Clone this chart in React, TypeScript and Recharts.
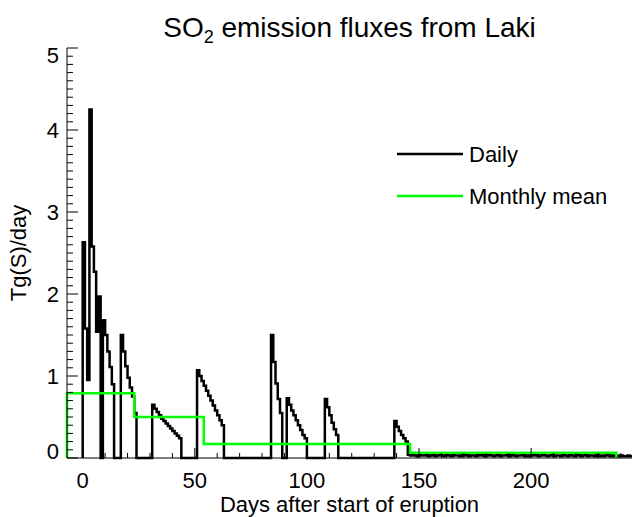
import { LineChart, Line, XAxis, YAxis } from "recharts";

// daily SO2 flux, Tg(S)/day, one array per eruption episode
const episodeStartDay = [0, 17, 31, 51, 84, 91, 108, 139, 145];
const episodeFlux = [
  [2.63, 1.58, 0.95, 4.25, 2.58, 2.27, 1.54, 1.97, 0, 1.68, 1.5, 1.3, 1.11, 0.9],
  [1.5, 1.3, 1.12, 0.98, 0.86, 0.75, 0.55],
  [0.65, 0.6, 0.56, 0.52, 0.48, 0.45, 0.42, 0.39, 0.36, 0.33, 0.3, 0.27, 0.24],
  [1.07, 1.0, 0.94, 0.88, 0.82, 0.76, 0.7, 0.64, 0.58, 0.52, 0.46, 0.4],
  [1.5, 1.17, 0.91, 0.72, 0.55],
  [0.73, 0.65, 0.58, 0.52, 0.46, 0.4, 0.34, 0.28, 0.24],
  [0.72, 0.62, 0.52, 0.43, 0.35, 0.28],
  [0.45, 0.38, 0.33, 0.28, 0.24, 0.2],
  // low-level tail, Nov - Feb
  [
    0.04, 0.03, 0.05, 0.03, 0.02, 0.04, 0.03, 0.03, 0.05, 0.02,
    0.03, 0.04, 0.02, 0.03, 0.05, 0.03, 0.02, 0.04, 0.03, 0.02,
    0.04, 0.03, 0.03, 0.02, 0.05, 0.03, 0.04, 0.02, 0.03, 0.03,
    0.02, 0.04, 0.03, 0.05, 0.02, 0.03, 0.04, 0.03, 0.02, 0.03,
    0.04, 0.02, 0.03, 0.03, 0.05, 0.02, 0.04, 0.03, 0.02, 0.03,
    0.03, 0.04, 0.02, 0.03, 0.02, 0.04, 0.03, 0.05, 0.02, 0.03,
    0.04, 0.03, 0.02, 0.03, 0.04, 0.02, 0.03, 0.03, 0.02, 0.04,
    0.03, 0.02, 0.04, 0.03, 0.02, 0.03, 0.05, 0.02, 0.03, 0.04,
    0.02, 0.03, 0.03, 0.02, 0.04, 0.02, 0.03, 0.02, 0.03, 0.04,
    0.02, 0.03, 0.02, 0.03, 0.02, 0.03, 0.02, 0.02, 0.03, 0.02,
  ],
];
const lastDay = 245;

// monthly means (June 1783 starts 7 days before the eruption)
const monthStartDay = [-7, 23, 54, 85, 115, 146, 176, 207, 238];
const monthlyMean = [0.79, 0.5, 0.17, 0.17, 0.17, 0.065, 0.065, 0.065, 0];

const xLabelTicks = [0, 50, 100, 150, 200];
const yLabelTicks = [0, 1, 2, 3, 4, 5];

const xTicks = Array.from({ length: 25 }, (_, i) => i * 10);
const yTicks = Array.from({ length: 51 }, (_, i) => +(i / 10).toFixed(1));

const font = "'Liberation Sans', Arial, Helvetica, sans-serif";

function fluxOnDay(day: number) {
  for (let e = 0; e < episodeStartDay.length; e++) {
    const k = day - episodeStartDay[e];
    if (k >= 0 && k < episodeFlux[e].length) return episodeFlux[e][k];
  }
  return 0;
}

const dailyData = [{ day: 0, flux: 0 }];
for (let d = 0; d < lastDay; d++) dailyData.push({ day: d, flux: fluxOnDay(d) });
dailyData.push({ day: lastDay, flux: fluxOnDay(lastDay - 1) });

const monthlyData = [{ day: monthStartDay[0], mean: 0 }].concat(
  monthStartDay.map((d, i) => ({ day: d, mean: monthlyMean[i] }))
);

const isMajorX = (v: number) => xLabelTicks.includes(v);
const isMajorY = (v: number) => yLabelTicks.includes(v);

const BottomTick = (p: any) => {
  const v = p.payload.value;
  const major = isMajorX(v);
  return (
    <g>
      <line x1={p.x} y1={p.y} x2={p.x} y2={p.y - (major ? 10 : 5)} stroke="#000" />
      {major && (
        <text x={p.x} y={p.y + 30} textAnchor="middle" fontSize={22} fontFamily={font} fill="#000">
          {v}
        </text>
      )}
    </g>
  );
};

const TopTick = (p: any) => {
  const major = isMajorX(p.payload.value);
  return <line x1={p.x} y1={p.y} x2={p.x} y2={p.y + (major ? 10 : 5)} stroke="#000" />;
};

const LeftTick = (p: any) => {
  const v = p.payload.value;
  const major = isMajorY(v);
  let shift = 8;
  if (v === 5) shift = 15;
  if (v === 0) shift = 1;
  return (
    <g>
      <line x1={p.x} y1={p.y} x2={p.x + (major ? 11 : 6)} y2={p.y} stroke="#000" />
      {major && (
        <text x={p.x - 8} y={p.y + shift} textAnchor="end" fontSize={22} fontFamily={font} fill="#000">
          {v}
        </text>
      )}
    </g>
  );
};

const RightTick = (p: any) => {
  const major = isMajorY(p.payload.value);
  return <line x1={p.x} y1={p.y} x2={p.x - (major ? 10 : 5)} y2={p.y} stroke="#000" />;
};

export default function App() {
  return (
    <div style={{ position: "fixed", left: 0, top: 0, width: 633, height: 517, background: "#fff" }}>
      <LineChart width={633} height={517} margin={{ top: 48, right: 1, bottom: 0, left: 0 }}>
        <XAxis
          xAxisId="b"
          type="number"
          dataKey="day"
          domain={[-7, lastDay]}
          ticks={xTicks}
          interval={0}
          height={59}
          tickSize={0}
          tickMargin={0}
          tickLine={false}
          tick={(p: any) => <BottomTick {...p} />}
          axisLine={{ stroke: "#000" }}
        />
        <XAxis
          xAxisId="t"
          orientation="top"
          type="number"
          dataKey="day"
          domain={[-7, lastDay]}
          ticks={xTicks}
          interval={0}
          height={0}
          tickSize={0}
          tickMargin={0}
          tickLine={false}
          tick={(p: any) => <TopTick {...p} />}
          axisLine={{ stroke: "#000" }}
        />
        <YAxis
          yAxisId="l"
          type="number"
          domain={[0, 5]}
          ticks={yTicks}
          interval={0}
          width={67}
          tickSize={0}
          tickMargin={0}
          tickLine={false}
          tick={(p: any) => <LeftTick {...p} />}
          axisLine={{ stroke: "#000" }}
        />
        <YAxis
          yAxisId="r"
          orientation="right"
          type="number"
          domain={[0, 5]}
          ticks={yTicks}
          interval={0}
          width={0}
          tickSize={0}
          tickMargin={0}
          tickLine={false}
          tick={(p: any) => <RightTick {...p} />}
          axisLine={{ stroke: "#000" }}
        />
        <Line
          xAxisId="b"
          yAxisId="l"
          data={dailyData}
          dataKey="flux"
          type="stepAfter"
          stroke="#000"
          strokeWidth={2.5}
          dot={false}
          isAnimationActive={false}
        />
        <Line
          xAxisId="t"
          yAxisId="r"
          data={monthlyData}
          dataKey="mean"
          type="stepAfter"
          stroke="#00ff00"
          strokeWidth={2.5}
          dot={false}
          isAnimationActive={false}
        />
      </LineChart>
      <svg
        width={633}
        height={517}
        style={{ position: "absolute", left: 0, top: 0, pointerEvents: "none" }}
        fontFamily={font}
        fill="#000"
      >
        <text x={349.5} y={37} textAnchor="middle" fontSize={28}>
          SO
          <tspan dy={6} fontSize={18}>2</tspan>
          <tspan dy={-6}> emission fluxes from Laki</tspan>
        </text>
        <text x={349.5} y={512} textAnchor="middle" fontSize={22}>
          Days after start of eruption
        </text>
        <text transform="rotate(-90)" x={-253} y={26} textAnchor="middle" fontSize={22}>
          Tg(S)/day
        </text>
        <line x1={397} y1={154} x2={463} y2={154} stroke="#000" strokeWidth={2.5} />
        <text x={469} y={162} fontSize={22}>Daily</text>
        <line x1={397} y1={196} x2={463} y2={196} stroke="#00ff00" strokeWidth={2.5} />
        <text x={469} y={204} fontSize={22}>Monthly mean</text>
      </svg>
    </div>
  );
}
